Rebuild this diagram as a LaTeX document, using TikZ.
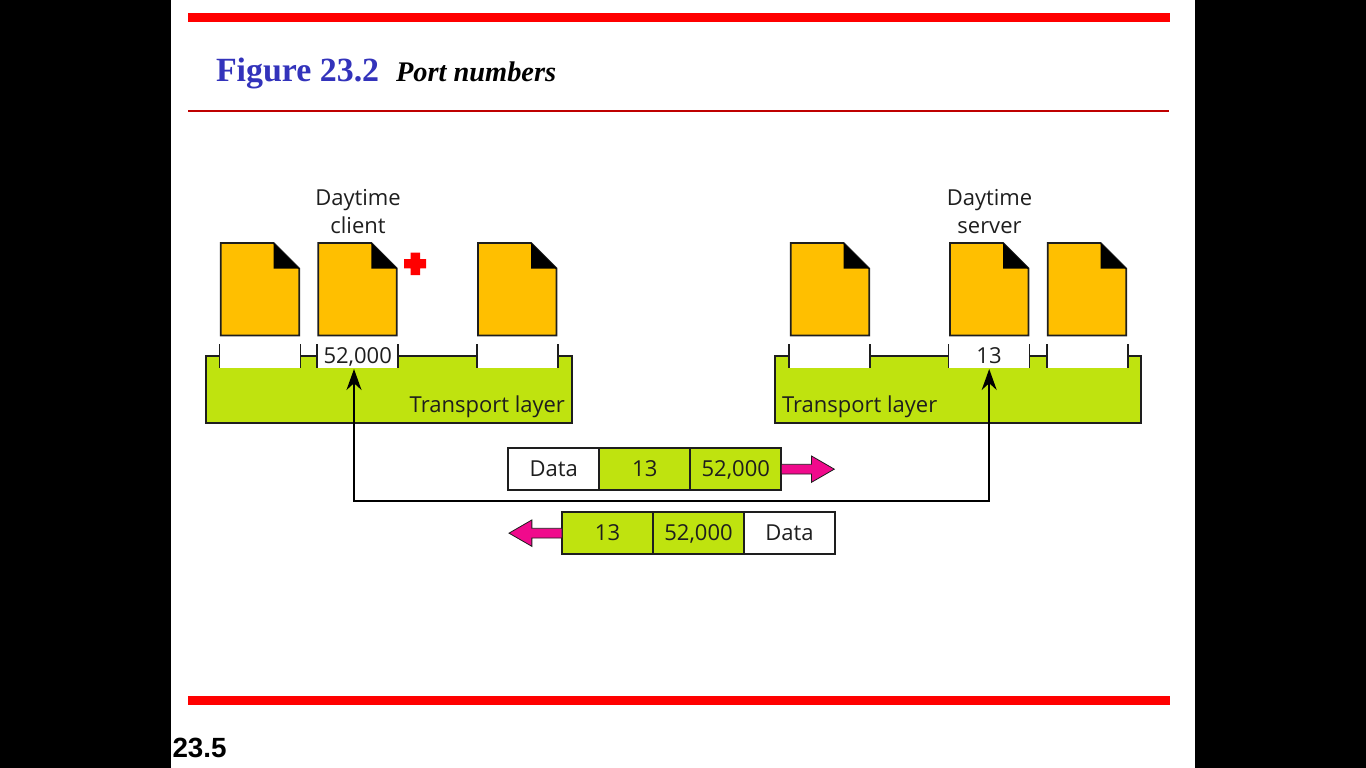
\documentclass[tikz,border=0pt]{standalone}
\usepackage{fontspec}
\setmainfont{Liberation Serif}
\setsansfont{Open Sans}
\newfontfamily\arialfont{Liberation Sans}
\usetikzlibrary{positioning,shapes.arrows,arrows.meta}
\definecolor{filecol}{HTML}{FFBF00}
\definecolor{layercol}{HTML}{BFE30F}
\definecolor{sendcol}{HTML}{F00A8C}
\definecolor{titlecol}{HTML}{3333BB}
\definecolor{inkcol}{HTML}{1E1E1E}
\tikzset{
  appfile/.pic={
    \draw[line width=1.8pt,fill=filecol,draw=inkcol] (0,0) -- (53,0) -- (78.5,25.5) -- (78.5,92.5) -- (0,92.5) -- cycle;
    \fill[black] (53,0) -- (78.5,25.5) -- (53,25.5) -- cycle;
  },
}
\begin{document}
\begin{tikzpicture}[
  x=1pt,y=-1pt,
  every node/.style={font=\sffamily\fontsize{22}{28}\selectfont,text=inkcol,inner sep=0pt,outer sep=0pt},
  layerbox/.style={draw=inkcol,fill=layercol,line width=1.8pt,minimum width=366pt,minimum height=67pt,anchor=north west},
  portslot/.style={fill=white,minimum width=81pt,minimum height=24.4pt,text height=15.5pt,text depth=0pt,anchor=north west},
  portline/.style={draw=inkcol,line width=1.6pt},
  cell/.style={draw=inkcol,line width=1.8pt,minimum width=91pt,minimum height=41.7pt,text height=15.5pt,text depth=0pt},
  greencell/.style={cell,fill=layercol},
  whitecell/.style={cell,fill=white},
  sendarrow/.style={single arrow,draw=inkcol,line width=0.8pt,fill=sendcol,inner sep=4.5pt,minimum height=53pt,single arrow head extend=8.3pt,single arrow tip angle=60},
  wire/.style={draw=black,line width=2pt,{Stealth[length=21pt,width=15pt]}-{Stealth[length=21pt,width=15pt]}},
  ]
  \useasboundingbox (0,0) rectangle (1366,768);
  \fill[black] (0,0) rectangle (171,768);
  \fill[black] (1195,0) rectangle (1366,768);
  \fill[red] (188,13) rectangle (1170,22);
  \fill[red!75!black] (188,110) rectangle (1169,111.7);
  \fill[red] (188,696) rectangle (1170,705);

  \node[anchor=base west,font=\rmfamily\bfseries\fontsize{33.9}{36}\selectfont,text=titlecol] (figtitle) at (216,81.3) {Figure 23.2};
  \node[anchor=base west,font=\rmfamily\bfseries\itshape\fontsize{28.4}{32}\selectfont,text=black] (figname) at (396,81.3) {Port numbers};
  \node[anchor=base west,font=\arialfont\bfseries\fontsize{27.8}{30}\selectfont,text=black] (pagenum) at (172.5,757) {23.5};

  \node[layerbox] (clientlayer) at (205.7,355.7) {};
  \node[layerbox] (serverlayer) at (775.3,355.7) {};

  \foreach \name/\xpos/\txt in {
    cporta/219.3/{},cportb/317.2/{52,000},cportc/476.8/{},
    sporta/789/{},sportb/948.5/{13},sportc/1046.8/{}}{
    \node[portslot] (\name) at (\xpos,344) {\txt};
    \draw[portline] (\name.north west) -- (\name.south west);
    \draw[portline] (\name.north east) -- (\name.south east);
  }

  \foreach \xpos in {220.7,318.3,478,790.7,950,1047.7}
    \pic at (\xpos,243) {appfile};

  \fill[red] (410.5,252.7) rectangle (420,275) (404,259) rectangle (426,268.3);

  \node[align=center] (clientname) at (358,212) {Daytime\\client};
  \node[align=center] (servername) at (989.5,212) {Daytime\\server};
  \node[anchor=base east] (clientlabel) at (565,412) {Transport layer};
  \node[anchor=base west] (serverlabel) at (782,412) {Transport layer};

  \node[whitecell,anchor=north west] (updata) at (508.3,448.3) {Data};
  \node[greencell,right=0pt of updata] (updst) {13};
  \node[greencell,right=0pt of updst] (upsrc) {52,000};
  \node[sendarrow,anchor=west] (uparrow) at (upsrc.east) {};

  \node[greencell,anchor=north west] (lowdst) at (562,512.3) {13};
  \node[greencell,right=0pt of lowdst] (lowsrc) {52,000};
  \node[whitecell,right=0pt of lowsrc] (lowdata) {Data};
  \node[sendarrow,shape border rotate=180,anchor=east] (lowarrow) at (lowdst.west) {};

  \coordinate (clientin) at (354,369);
  \coordinate (serverin) at (989.2,369);
  \coordinate (wiremid) at (670,500.7);
  \draw[wire] (clientin) |- (wiremid) -| (serverin);
\end{tikzpicture}
\end{document}
